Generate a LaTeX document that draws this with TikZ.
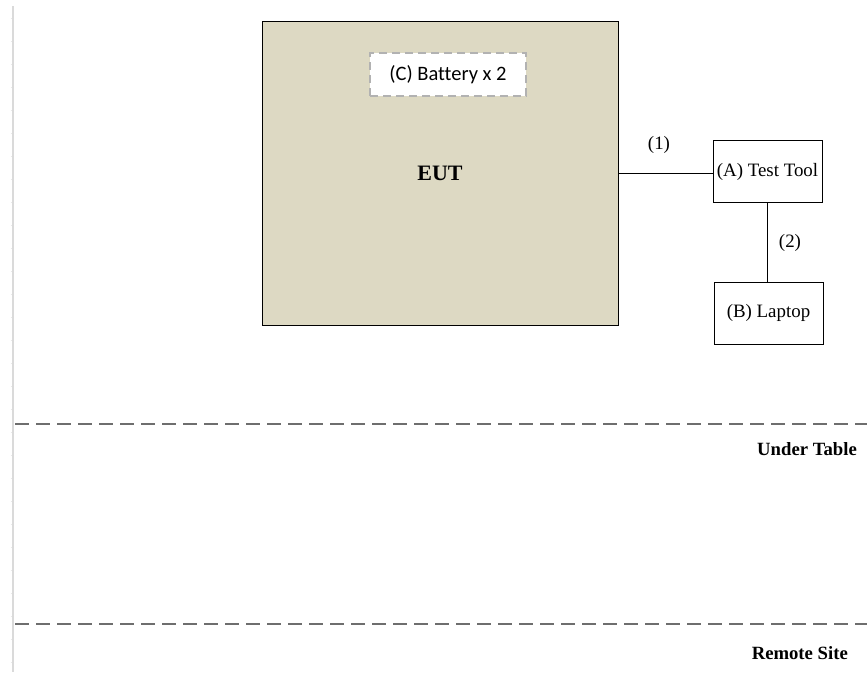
\documentclass[tikz,border=0pt]{standalone}
\usepackage{fontspec}
\setmainfont{Liberation Serif}
\newfontfamily\calib[Ligatures=NoCommon]{Carlito}
\definecolor{eutfill}{HTML}{DDD9C3}
\definecolor{sepgray}{HTML}{6E6E6E}
\definecolor{margingray}{HTML}{DADADA}
\begin{document}
\begin{tikzpicture}[x=1pt,y=-1pt,
  box/.style={draw=black,line width=1pt,inner sep=0pt,font=\fontsize{18.9}{20}\selectfont},
  lbl/.style={inner sep=0pt,font=\fontsize{18.9}{20}\selectfont},
  zone/.style={inner sep=0pt,font=\bfseries\fontsize{18.7}{20}\selectfont,anchor=east},
  sep/.style={draw=sepgray,line width=1.8pt,dash pattern=on 14pt off 7pt},
  wire/.style={draw=black,line width=1pt}]
\useasboundingbox (0,0) rectangle (867,672);
\fill[white] (0,0) rectangle (867,672);
% left margin rule
\draw[margingray,line width=2pt] (13,6) -- (13,672);
\foreach \k in {0,...,28} {\draw[margingray!60,line width=0.6pt] (10.5,18+23*\k) -- (12,18+23*\k);}
% EUT
\node[box,fill=eutfill,minimum width=356pt,minimum height=304pt,font=\bfseries\fontsize{22}{24}\selectfont] (eut) at (440,173) {EUT};
\node[draw=gray!60,fill=white,line width=1.8pt,dash pattern=on 8pt off 5pt,minimum width=156pt,minimum height=43pt,inner sep=0pt,font=\calib\fontsize{20.5}{22}\selectfont] (bat) at (448,74.5) {(C) Battery x 2};
% Test tool and laptop
\node[box,minimum width=109pt,minimum height=62pt] (tool) at (767.5,171.5) {(A) Test Tool};
\node[box,minimum width=109pt,minimum height=62pt] (lap) at (768.5,313) {(B) Laptop};
\draw[wire] (eut.east |- 0,173) -- (tool.west |- 0,173);
\draw[wire] (tool.south -| 767,0) -- (lap.north -| 767,0);
\node[lbl] (l1) at (659,145) {(1)};
\node[lbl] (l2) at (790,243) {(2)};
% zone separators
\coordinate (s1a) at (15,424);
\coordinate (s1b) at (867,424);
\coordinate (s2a) at (15,624);
\coordinate (s2b) at (867,624);
\draw[sep] (s1a) -- (s1b);
\draw[sep] (s2a) -- (s2b);
\node[zone] (ut) at (857,449) {Under Table};
\node[zone] (rs) at (848,653) {Remote Site};
\end{tikzpicture}
\end{document}
